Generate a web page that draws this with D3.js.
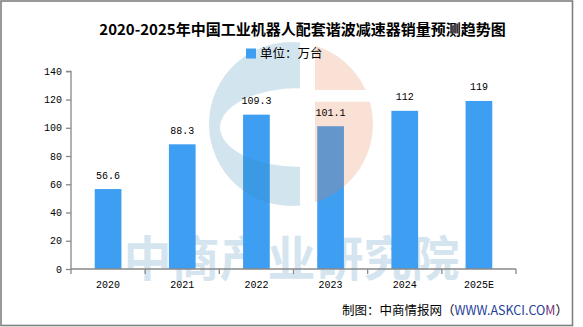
<!DOCTYPE html>
<html>
<head>
<meta charset="utf-8">
<script src="https://cdn.jsdelivr.net/npm/d3@7/dist/d3.min.js"></script>
<style>
  html, body { margin: 0; padding: 0; background: #fff; }
  svg { display: block; }
</style>
</head>
<body>
<svg id="chart" width="583" height="327"></svg>
<script>
// Harmonic reducer sales for China's industrial robots, 2020-2025 (10k units)
const categories = ["2020", "2021", "2022", "2023", "2024", "2025E"];
const sales = [56.6, 88.3, 109.3, 101.1, 112, 119];
const valueLabels = ["56.6", "88.3", "109.3", "101.1", "112", "119"];
const yTicks = [0, 20, 40, 60, 80, 100, 120, 140];

const titleText = "2020-2025年中国工业机器人配套谐波减速器销量预测趋势图";
const legendText = "单位：万台";
const watermarkText = "中商产业研究院";

const barColor = "#3e9ef2";
const axisColor = "#888888";
const cjk = "'Noto Sans CJK SC', 'Noto Sans', sans-serif";
const mono = "'Liberation Mono', 'DejaVu Sans Mono', monospace";

const svg = d3.select("#chart");

// plot area
const plotLeft = 71, plotRight = 516, plotTop = 71.3, plotBottom = 269;

const x = d3.scaleBand().domain(categories).range([plotLeft, plotRight]).padding(0);
const y = d3.scaleLinear().domain([0, 140]).range([plotBottom, plotTop]);
const barW = x.bandwidth() * 0.36;

// white background + frame
svg.append("rect").attr("x", 0).attr("y", 0).attr("width", 583).attr("height", 327).attr("fill", "#fff");
svg.append("rect")
  .attr("x", 1).attr("y", 1).attr("width", 571.5).attr("height", 324.5)
  .attr("fill", "none").attr("stroke", "#808080").attr("stroke-width", 1.6);

// faint brand text behind the bars
svg.append("text")
  .attr("x", 291.5).attr("y", 276)
  .attr("text-anchor", "middle")
  .attr("font-family", cjk).attr("font-size", 48).attr("font-weight", 700)
  .attr("fill", "#d5e5f0")
  .text(watermarkText);

// bars
svg.append("g").selectAll("rect")
  .data(sales)
  .join("rect")
  .attr("x", (d, i) => x(categories[i]) + (x.bandwidth() - barW) / 2)
  .attr("y", d => y(d))
  .attr("width", barW)
  .attr("height", d => y(0) - y(d))
  .attr("fill", barColor);

// round brand logo drawn translucently over the bars
(function drawLogo() {
  const cx = 291, cy = 124, r = 82;
  const cutL = 300, cutR = 315;
  const yAt = xx => Math.sqrt(r * r - (xx - cx) * (xx - cx));
  const xAt = yy => cx + Math.sqrt(r * r - (yy - cy) * (yy - cy));
  const g = svg.append("g");

  // blue "C": left part of the disc, minus a half-ellipse opening
  const h1 = yAt(cutL);
  const ex = 300, ey = 127.5, erx = 80, ery = 39.5;
  const cPath =
    `M${cutL},${cy - h1} A${r},${r} 0 1,0 ${cutL},${cy + h1} Z ` +
    `M${ex},${ey - ery} A${erx},${ery} 0 0,0 ${ex},${ey + ery} Z`;
  g.append("path").attr("d", cPath).attr("fill-rule", "evenodd")
    .attr("fill", "rgb(57,136,180)").attr("opacity", 0.227);

  // salmon right segment split by a horizontal gap
  const h2 = yAt(cutR);
  const gapTop = 90, gapBot = 101.7;
  const topPiece = `M${cutR},${cy - h2} A${r},${r} 0 0,1 ${xAt(gapTop)},${gapTop} L${cutR},${gapTop} Z`;
  const lowPiece = `M${cutR},${gapBot} L${xAt(gapBot)},${gapBot} A${r},${r} 0 0,1 ${cutR},${cy + h2} Z`;
  g.append("path").attr("d", topPiece + " " + lowPiece)
    .attr("fill", "rgb(233,123,70)").attr("opacity", 0.227);
})();

// y axis
const yAxis = svg.append("g").attr("transform", `translate(${plotLeft},0)`)
  .call(d3.axisLeft(y).tickValues(yTicks).tickSize(5).tickPadding(4));
yAxis.select(".domain").attr("stroke", axisColor).attr("stroke-width", 1.3)
  .attr("d", `M-5,${plotTop}H0V${plotBottom}`);
yAxis.selectAll(".tick line").attr("stroke", axisColor).attr("stroke-width", 1.3);
yAxis.selectAll(".tick text")
  .attr("font-family", mono).attr("font-size", 10).attr("fill", "#000");

// x axis: ticks on band boundaries
const xAxisG = svg.append("g");
xAxisG.append("line")
  .attr("x1", plotLeft).attr("x2", plotRight).attr("y1", plotBottom).attr("y2", plotBottom)
  .attr("stroke", axisColor).attr("stroke-width", 1.3);
const boundaries = categories.map(c => x(c)).concat([plotRight]);
xAxisG.selectAll("line.tk")
  .data(boundaries)
  .join("line").attr("class", "tk")
  .attr("x1", d => d).attr("x2", d => d)
  .attr("y1", plotBottom).attr("y2", plotBottom + 5)
  .attr("stroke", axisColor).attr("stroke-width", 1.3);
xAxisG.selectAll("text")
  .data(categories)
  .join("text")
  .attr("x", d => x(d) + x.bandwidth() / 2)
  .attr("y", 288)
  .attr("text-anchor", "middle")
  .attr("font-family", mono).attr("font-size", 10).attr("fill", "#000")
  .text(d => d);

// value labels
svg.append("g").selectAll("text")
  .data(sales)
  .join("text")
  .attr("x", (d, i) => x(categories[i]) + x.bandwidth() / 2)
  .attr("y", d => y(d) - 10.5)
  .attr("text-anchor", "middle")
  .attr("font-family", mono).attr("font-size", 10).attr("fill", "#000")
  .text((d, i) => valueLabels[i]);

// title
svg.append("text")
  .attr("x", 302.5).attr("y", 35)
  .attr("text-anchor", "middle")
  .attr("font-family", cjk).attr("font-size", 15).attr("font-weight", 700)
  .attr("fill", "#000")
  .text(titleText);

// legend
svg.append("rect").attr("x", 246).attr("y", 48.5).attr("width", 10).attr("height", 10).attr("fill", barColor);
svg.append("text")
  .attr("x", 260).attr("y", 57.8)
  .attr("font-family", cjk).attr("font-size", 12.5).attr("fill", "#000")
  .text(legendText);

// source note
const note = svg.append("text")
  .attr("x", 568).attr("y", 315)
  .attr("text-anchor", "end")
  .attr("font-family", cjk).attr("font-size", 12.5).attr("fill", "#000");
note.append("tspan").text("制图：中商情报网（");
note.append("tspan").attr("fill", "#23409a").text("WWW.ASKCI.CO");
note.append("tspan").attr("fill", "#7b2f7a").text("M");
note.append("tspan").text("）");
</script>
</body>
</html>
